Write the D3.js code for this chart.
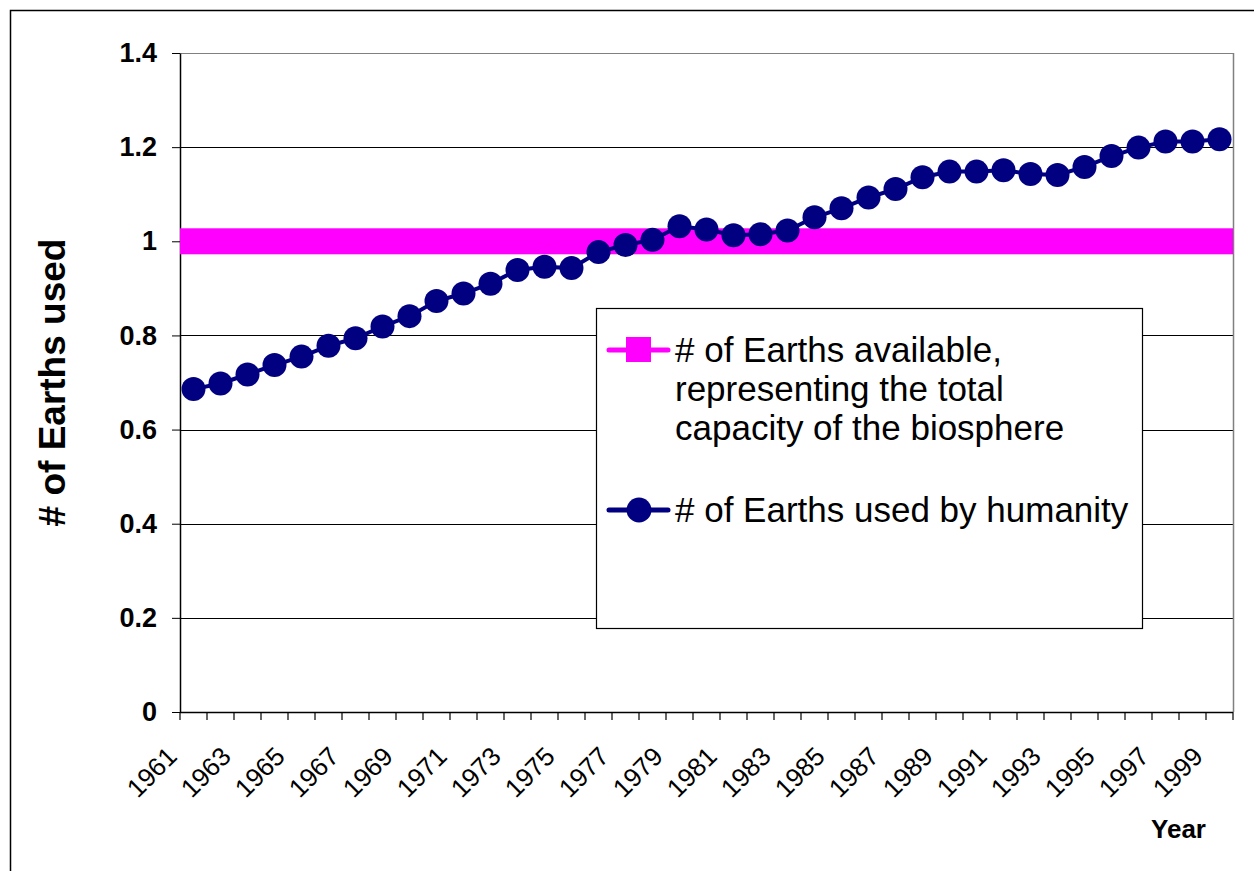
<!DOCTYPE html>
<html>
<head>
<meta charset="utf-8">
<script src="https://cdn.jsdelivr.net/npm/d3@7"></script>
<style>
    body { margin: 0; background: #fff; }
    svg { display: block; font-family: "Liberation Sans", Arial, sans-serif; }
</style>
</head>
<body>
<div id="chart"></div>
<script>
// Data
const years = d3.range(1961, 2000);
const available = years.map(() => 1);
const used = [0.686, 0.698, 0.717, 0.737, 0.755, 0.778, 0.794, 0.819, 0.841, 0.873,
    0.889, 0.910, 0.939, 0.946, 0.943, 0.977, 0.992, 1.003, 1.032, 1.025,
    1.013, 1.015, 1.023, 1.051, 1.070, 1.093, 1.111, 1.136, 1.148, 1.148,
    1.151, 1.143, 1.141, 1.158, 1.181, 1.199, 1.212, 1.212, 1.217];
const yTicks = [0, 0.2, 0.4, 0.6, 0.8, 1, 1.2, 1.4];
const seriesNames = ["# of Earths available, representing the total capacity of the biosphere", "# of Earths used by humanity"];
const legendLines = [["# of Earths available,", "representing the total", "capacity of the biosphere"], ["# of Earths used by humanity"]];

// Size data
const W = 1254, H = 871;
const m = { top: 53, right: 21, bottom: 159, left: 180 };
const pink = "#ff00ff", navy = "#000080";

const svg = d3.select("#chart")
    .append("svg")
    .attr("width", W)
    .attr("height", H);

// Outer frame
svg.append("rect")
    .attr("x", 10.5).attr("y", 10.5)
    .attr("width", W + 20).attr("height", H + 20)
    .attr("fill", "#fff")
    .attr("stroke", "#000")
    .attr("stroke-width", 1.5);

// Scales
const x = d3.scaleBand().domain(years).range([m.left, W - m.right]).padding(0);
const y = d3.scaleLinear().domain([0, 1.4]).range([H - m.bottom, m.top]);

// Gridlines
svg.append("g")
    .selectAll("line")
    .data(yTicks.filter(d => d > 0))
    .join("line")
    .attr("x1", m.left).attr("x2", W - m.right)
    .attr("y1", d => Math.round(y(d)) + 0.5).attr("y2", d => Math.round(y(d)) + 0.5)
    .attr("stroke", d => d === 1.4 ? "#808080" : "#000")
    .attr("stroke-width", 1);

// Plot area right border
svg.append("line")
    .attr("x1", W - m.right + 0.5).attr("x2", W - m.right + 0.5)
    .attr("y1", y(1.4)).attr("y2", y(0))
    .attr("stroke", "#808080")
    .attr("stroke-width", 1.5);

// Y axis
const yAxis = svg.append("g")
    .attr("transform", `translate(${m.left}, 0)`)
    .call(d3.axisLeft(y).tickValues(yTicks).tickSize(8).tickSizeOuter(0).tickPadding(15).tickFormat(d3.format("")));
yAxis.select(".domain").attr("stroke", "#000").attr("stroke-width", 1.5);
yAxis.selectAll(".tick line").attr("stroke", "#000");
yAxis.selectAll("text")
    .attr("font-size", 27)
    .attr("font-weight", "bold")
    .attr("fill", "#000")
    .attr("font-family", "Liberation Sans, Arial, sans-serif");

// X axis line
svg.append("line")
    .attr("x1", m.left).attr("x2", W - m.right)
    .attr("y1", y(0) + 0.5).attr("y2", y(0) + 0.5)
    .attr("stroke", "#000")
    .attr("stroke-width", 1.5);

// X ticks between categories
svg.append("g")
    .selectAll("line")
    .data(years.concat([null]))
    .join("line")
    .attr("x1", d => d === null ? x.range()[1] : x(d))
    .attr("x2", d => d === null ? x.range()[1] : x(d))
    .attr("y1", y(0))
    .attr("y2", y(0) + 8)
    .attr("stroke", "#000")
    .attr("stroke-width", 1.2);

// X labels
svg.append("g")
    .selectAll("text")
    .data(years.filter((d, i) => i % 2 === 0))
    .join("text")
    .attr("transform", d => `translate(${x(d) + x.bandwidth() / 2 - 28}, ${y(0) + 33}) rotate(-45)`)
    .attr("text-anchor", "end")
    .attr("dy", "0.71em")
    .attr("font-size", 26)
    .attr("fill", "#000")
    .text(d => d);

// Available series: line + big squares
const line = d3.line()
    .x((d, i) => x(years[i]) + x.bandwidth() / 2)
    .y(d => y(d));
svg.append("path")
    .datum(available)
    .attr("d", line)
    .attr("fill", "none")
    .attr("stroke", pink)
    .attr("stroke-width", 4);
svg.append("g")
    .selectAll("rect")
    .data(available)
    .join("rect")
    .attr("x", (d, i) => x(years[i]) + x.bandwidth() / 2 - 13.5)
    .attr("y", d => y(d) - 13)
    .attr("width", 27)
    .attr("height", 26)
    .attr("fill", pink);

// Used series: line + circles
svg.append("path")
    .datum(used)
    .attr("d", line)
    .attr("fill", "none")
    .attr("stroke", navy)
    .attr("stroke-width", 4);
svg.append("g")
    .selectAll("circle")
    .data(used)
    .join("circle")
    .attr("cx", (d, i) => x(years[i]) + x.bandwidth() / 2)
    .attr("cy", d => y(d))
    .attr("r", 12)
    .attr("fill", navy);

// Y axis title
svg.append("text")
    .attr("transform", `translate(65, ${(y(0) + y(1.4)) / 2}) rotate(-90)`)
    .attr("text-anchor", "middle")
    .attr("font-size", 37)
    .attr("font-weight", "bold")
    .attr("fill", "#000")
    .text("# of Earths used");

// X axis title
svg.append("text")
    .attr("x", 1178.5)
    .attr("y", 838)
    .attr("text-anchor", "middle")
    .attr("font-size", 26)
    .attr("font-weight", "bold")
    .attr("fill", "#000")
    .text("Year");

// Legend
const lg = svg.append("g").attr("transform", "translate(596, 308)");
lg.append("rect")
    .attr("x", 0.5).attr("y", 0.5)
    .attr("width", 546).attr("height", 320)
    .attr("fill", "#fff")
    .attr("stroke", "#000")
    .attr("stroke-width", 1.2);

const items = lg.selectAll("g.item")
    .data(seriesNames)
    .join("g")
    .attr("class", "item")
    .attr("transform", (d, i) => `translate(0, ${i === 0 ? 42 : 202})`);
items.append("line")
    .attr("x1", 13).attr("x2", 72)
    .attr("y1", 0).attr("y2", 0)
    .attr("stroke", (d, i) => i === 0 ? pink : navy)
    .attr("stroke-width", 5)
    .attr("stroke-linecap", "round");
items.filter((d, i) => i === 0).append("rect")
    .attr("x", 30).attr("y", -13).attr("width", 25).attr("height", 25)
    .attr("fill", pink);
items.filter((d, i) => i === 1).append("circle")
    .attr("cx", 43).attr("cy", 0).attr("r", 12.5)
    .attr("fill", navy);
items.append("text")
    .attr("x", 79)
    .attr("y", 12)
    .attr("font-size", 35)
    .attr("fill", "#000")
    .selectAll("tspan")
    .data((d, i) => legendLines[i])
    .join("tspan")
    .attr("x", 79)
    .attr("dy", (d, i) => i === 0 ? 0 : 39)
    .text(d => d);
</script>
</body>
</html>
